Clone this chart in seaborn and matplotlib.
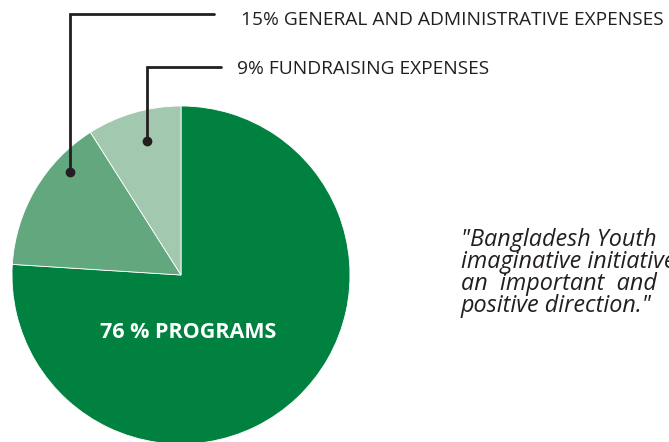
import matplotlib
matplotlib.use("Agg")
import matplotlib.pyplot as plt
import seaborn as sns

# expense split
labels = ["76 % PROGRAMS", "15% GENERAL AND ADMINISTRATIVE EXPENSES", "9% FUNDRAISING EXPENSES"]
shares = [76, 15, 9]
colors = ["#00813F", "#62A77D", "#A2C9B0"]

quote_lines = ['"Bangladesh Youth',
               'imaginative initiative',
               'an  important  and',
               'positive direction."']

sns.set_theme(style="white")
plt.rcParams['font.family'] = ['Open Sans', 'DejaVu Sans']

fig = plt.figure(figsize=(6.69, 4.42), dpi=100)
ax = fig.add_axes([0, 0, 1, 1])

H = 442
cx, cy, r = 181, H - 275, 169
ax.pie(shares, colors=colors, startangle=90, counterclock=False,
       center=(cx, cy), radius=r,
       wedgeprops=dict(linewidth=0.6, edgecolor="white"))

ax.text(188, H - 333, labels[0], color="white", fontsize=15.5, fontweight="bold",
        ha="center", va="center")

# leader lines (dot in slice -> up -> right)
ink = "#231F20"
ax.plot([70, 70, 214], [H - 172, H - 14, H - 14], color=ink, lw=2, solid_joinstyle="miter")
ax.plot([70], [H - 172], "o", color=ink, ms=6)
ax.plot([147, 147, 221], [H - 141, H - 67, H - 67], color=ink, lw=2, solid_joinstyle="miter")
ax.plot([147], [H - 141], "o", color=ink, ms=6)

ax.text(241, H - 20, labels[1], color=ink, fontsize=13.8, ha="left", va="center")
ax.text(237, H - 69, labels[2], color=ink, fontsize=13.8, ha="left", va="center")

for i, line in enumerate(quote_lines):
    ax.text(461, H - 240 - i * 22, line, color=ink, fontsize=16.8, style="italic",
            ha="left", va="center")

ax.set_xlim(0, 669)
ax.set_ylim(0, H)
ax.set_aspect("equal")
ax.axis("off")

fig.savefig("out.png", dpi=100)
